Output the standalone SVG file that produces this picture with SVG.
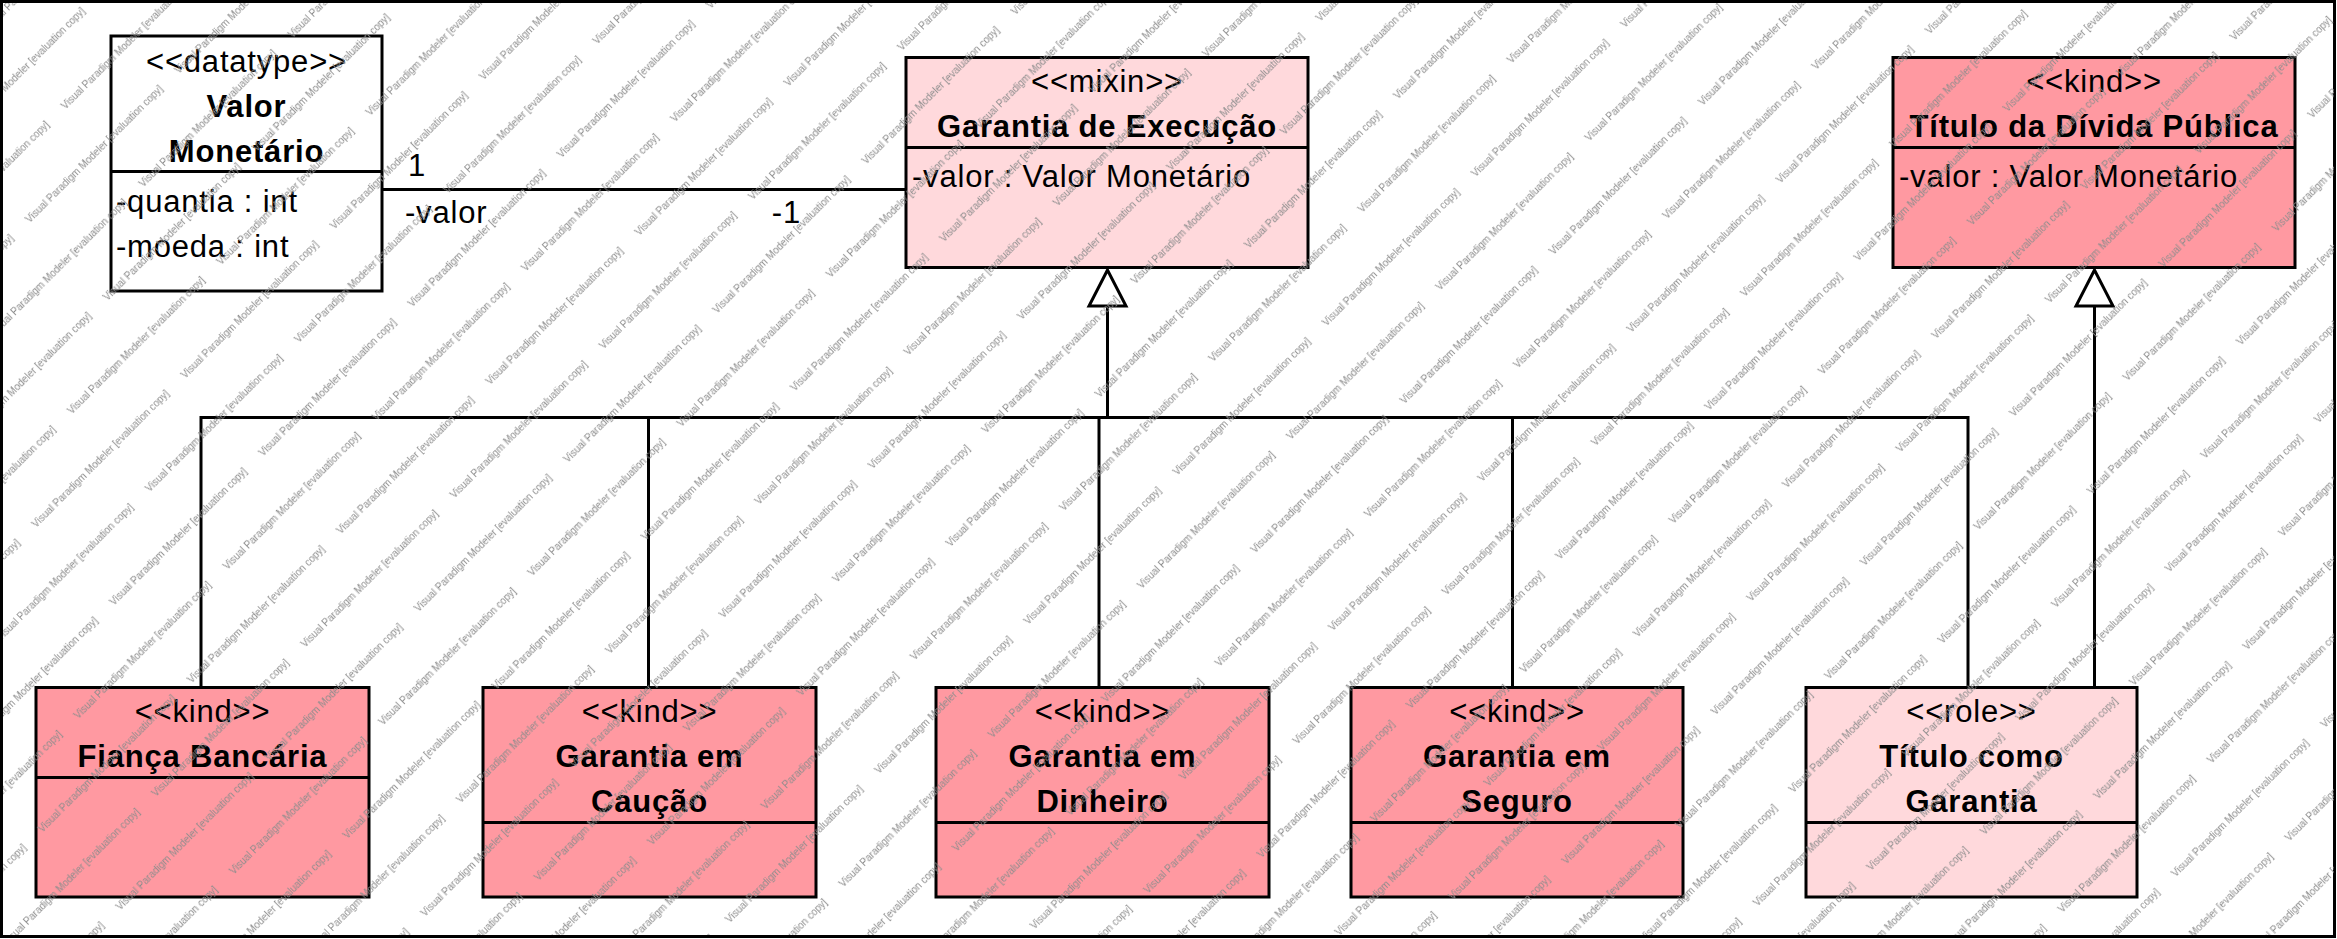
<svg xmlns="http://www.w3.org/2000/svg" width="2337" height="939" viewBox="0 0 2337 939">
<style>
.box{stroke:#000;stroke-width:3}
.kind{fill:#FF99A1}
.light{fill:#FFD9DC}
.white{fill:#fff}
.ln{stroke:#000;stroke-width:3;fill:none}
.tri{stroke:#000;stroke-width:3;fill:#fff}
text{font-family:"Liberation Sans",Arial,sans-serif;font-size:31px;fill:#000;letter-spacing:0.8px}
.st{text-anchor:middle}
.nm{text-anchor:middle;font-weight:bold}
.wm{font-size:10px;fill:#8c8c8c;letter-spacing:0}
</style>
<defs>
<pattern id="watermark" patternUnits="userSpaceOnUse" width="211" height="110" patternTransform="rotate(-45)">
<text class="wm" x="74" y="68.5">Visual Paradigm Modeler [evaluation copy]</text>
<text class="wm" x="-137" y="68.5">Visual Paradigm Modeler [evaluation copy]</text>
<text class="wm" x="179.5" y="13.5">Visual Paradigm Modeler [evaluation copy]</text>
<text class="wm" x="-31.5" y="13.5">Visual Paradigm Modeler [evaluation copy]</text>
</pattern>
</defs>
<rect x="0" y="0" width="2337" height="939" fill="#fff"/>
<rect x="1.5" y="1.5" width="2333" height="935" fill="none" stroke="#000" stroke-width="3"/>
<g id="connectors">
<line class="ln" x1="383" y1="189.5" x2="906" y2="189.5"/>
<text x="408" y="176">1</text>
<text x="405" y="223">-valor</text>
<text x="801" y="223" text-anchor="end">-1</text>
<polyline class="ln" points="201,687 201,417.5 1968,417.5 1968,687"/>
<line class="ln" x1="648.5" y1="417.5" x2="648.5" y2="687"/>
<line class="ln" x1="1099" y1="417.5" x2="1099" y2="687"/>
<line class="ln" x1="1512.5" y1="417.5" x2="1512.5" y2="687"/>
<line class="ln" x1="1107.5" y1="306" x2="1107.5" y2="417.5"/>
<polygon class="tri" points="1107.5,270 1089,306 1126,306"/>
<line class="ln" x1="2094.5" y1="306" x2="2094.5" y2="687"/>
<polygon class="tri" points="2094.5,270 2076,306 2113,306"/>
</g>
<g id="valor-monetario">
<rect class="box white" x="111" y="36" width="271" height="255"/>
<line class="ln" x1="111" y1="171.5" x2="382" y2="171.5"/>
<text class="st" x="246.5" y="72">&lt;&lt;datatype&gt;&gt;</text>
<text class="nm" x="246.5" y="117">Valor</text>
<text class="nm" x="246.5" y="162">Monetário</text>
<text x="116" y="212">-quantia : int</text>
<text x="116" y="257">-moeda : int</text>
</g>
<g id="garantia-execucao">
<rect class="box light" x="906" y="57.5" width="402" height="210"/>
<line class="ln" x1="906" y1="147.5" x2="1308" y2="147.5"/>
<text class="st" x="1107" y="92">&lt;&lt;mixin&gt;&gt;</text>
<text class="nm" x="1107" y="137">Garantia de Execução</text>
<text x="912" y="187">-valor : Valor Monetário</text>
</g>
<g id="titulo-divida">
<rect class="box kind" x="1893" y="57.5" width="402" height="210"/>
<line class="ln" x1="1893" y1="147.5" x2="2295" y2="147.5"/>
<text class="st" x="2094" y="92">&lt;&lt;kind&gt;&gt;</text>
<text class="nm" x="2094" y="137">Título da Dívida Pública</text>
<text x="1899" y="187">-valor : Valor Monetário</text>
</g>
<g id="fianca-bancaria">
<rect class="box kind" x="36" y="687.5" width="333" height="209.5"/>
<line class="ln" x1="36" y1="777.5" x2="369" y2="777.5"/>
<text class="st" x="202.5" y="722">&lt;&lt;kind&gt;&gt;</text>
<text class="nm" x="202.5" y="767">Fiança Bancária</text>
</g>
<g id="garantia-caucao">
<rect class="box kind" x="483" y="687.5" width="333" height="209.5"/>
<line class="ln" x1="483" y1="822.5" x2="816" y2="822.5"/>
<text class="st" x="649.5" y="722">&lt;&lt;kind&gt;&gt;</text>
<text class="nm" x="649.5" y="767">Garantia em</text>
<text class="nm" x="649.5" y="812">Caução</text>
</g>
<g id="garantia-dinheiro">
<rect class="box kind" x="936" y="687.5" width="333" height="209.5"/>
<line class="ln" x1="936" y1="822.5" x2="1269" y2="822.5"/>
<text class="st" x="1102.5" y="722">&lt;&lt;kind&gt;&gt;</text>
<text class="nm" x="1102.5" y="767">Garantia em</text>
<text class="nm" x="1102.5" y="812">Dinheiro</text>
</g>
<g id="garantia-seguro">
<rect class="box kind" x="1351" y="687.5" width="332" height="209.5"/>
<line class="ln" x1="1351" y1="822.5" x2="1683" y2="822.5"/>
<text class="st" x="1517" y="722">&lt;&lt;kind&gt;&gt;</text>
<text class="nm" x="1517" y="767">Garantia em</text>
<text class="nm" x="1517" y="812">Seguro</text>
</g>
<g id="titulo-como-garantia">
<rect class="box light" x="1806" y="687.5" width="331" height="209.5"/>
<line class="ln" x1="1806" y1="822.5" x2="2137" y2="822.5"/>
<text class="st" x="1971.5" y="722">&lt;&lt;role&gt;&gt;</text>
<text class="nm" x="1971.5" y="767">Título como</text>
<text class="nm" x="1971.5" y="812">Garantia</text>
</g>
<rect id="watermark-overlay" x="3" y="3" width="2331" height="932" fill="url(#watermark)"/>
</svg>
